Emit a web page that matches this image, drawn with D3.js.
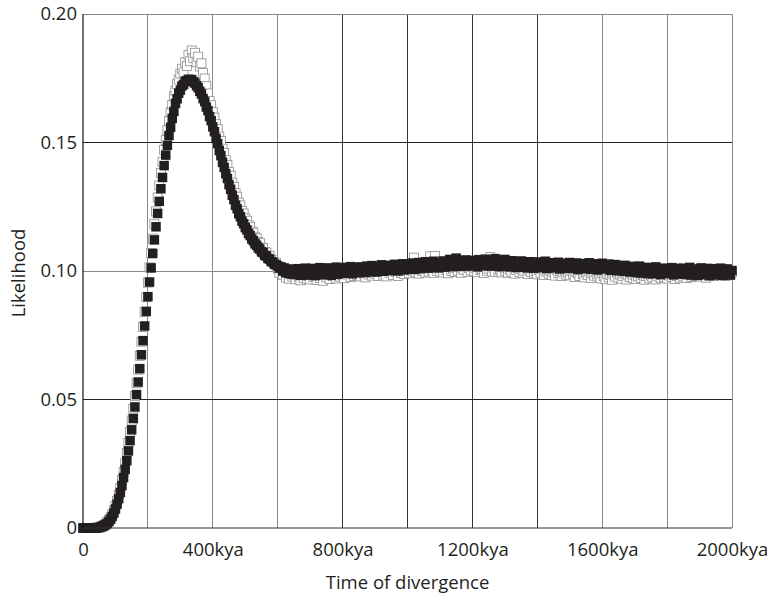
<!DOCTYPE html>
<html><head><meta charset="utf-8">
<script src="https://cdn.jsdelivr.net/npm/d3@7"></script>
<style>
html,body{margin:0;padding:0;background:#fff;}
text{font-family:"Open Sans",sans-serif;fill:#231f20;}
</style></head>
<body><svg id="chart" width="767" height="600"></svg>
<script>
// ---- data ----
const stepKya = 5; // sampling interval of the series (kya)
const filledValues = [
0,0,0,0,0,0,0,0,0,0.0001,
0.0002,0.0004,0.0006,0.0009,0.0013,0.0018,0.0025,0.0034,0.0045,0.0058,
0.0074,0.0093,0.0114,0.0138,0.0165,0.0196,0.0228,0.0262,0.0300,0.0340,
0.0382,0.0426,0.0471,0.0519,0.0568,0.0620,0.0674,0.0729,0.0786,0.0843,
0.0900,0.0957,0.1012,0.1068,0.1121,0.1172,0.1224,0.1271,0.1320,0.1364,
0.1410,0.1451,0.1489,0.1527,0.1559,0.1594,0.1621,0.1652,0.1670,0.1692,
0.1704,0.1720,0.1726,0.1738,0.1741,0.1746,0.1743,0.1745,0.1736,0.1731,
0.1721,0.1713,0.1699,0.1689,0.1671,0.1659,0.1638,0.1624,0.1601,0.1585,
0.1561,0.1542,0.1516,0.1496,0.1469,0.1449,0.1423,0.1403,0.1379,0.1360,
0.1336,0.1318,0.1295,0.1278,0.1256,0.1242,0.1223,0.1211,0.1194,0.1184,
0.1169,0.1160,0.1146,0.1138,0.1125,0.1118,0.1106,0.1100,0.1090,0.1085,
0.1075,0.1071,0.1061,0.1058,0.1049,0.1046,0.1037,0.1035,0.1027,0.1024,
0.1020,0.1011,0.1016,0.1000,0.1012,0.0993,0.1008,0.0990,0.1005,0.0988,
0.1004,0.0986,0.1009,0.0991,0.0983,0.1006,0.0989,0.1011,0.0984,0.1002,
0.0987,0.1010,0.0992,0.0982,0.1007,0.0994,0.1013,0.0985,0.1003,0.0990,
0.1012,0.0988,0.1004,0.0983,0.1009,0.0995,0.1015,0.0987,0.1006,0.0992,
0.1008,0.0991,0.1014,0.0996,0.1003,0.1017,0.0989,0.1010,0.0998,0.1012,
0.0993,0.1016,0.1001,0.1011,0.0994,0.1019,0.1003,0.0997,0.1021,0.1005,
0.1013,0.0996,0.1018,0.1004,0.1024,0.0999,0.1014,0.1007,0.1022,0.1001,
0.1017,0.1005,0.1026,0.1009,0.1000,0.1023,0.1011,0.1028,0.1004,0.1019,
0.1008,0.1027,0.1012,0.1031,0.1006,0.1021,0.1015,0.1033,0.1009,0.1025,
0.1014,0.1036,0.1018,0.1011,0.1029,0.1016,0.1038,0.1020,0.1032,0.1012,
0.1030,0.1019,0.1039,0.1015,0.1034,0.1022,0.1045,0.1026,0.1017,0.1037,
0.1050,0.1021,0.1036,0.1018,0.1040,0.1027,0.1043,0.1019,0.1035,0.1024,
0.1041,0.1022,0.1038,0.1016,0.1044,0.1028,0.1035,0.1020,0.1046,0.1025,
0.1037,0.1019,0.1042,0.1026,0.1048,0.1021,0.1039,0.1017,0.1036,0.1029,
0.1045,0.1020,0.1034,0.1016,0.1040,0.1024,0.1037,0.1014,0.1033,0.1022,
0.1039,0.1015,0.1031,0.1023,0.1012,0.1036,0.1019,0.1034,0.1011,0.1027,
0.1018,0.1035,0.1013,0.1029,0.1021,0.1038,0.1010,0.1026,0.1016,0.1032,
0.1012,0.1028,0.1019,0.1034,0.1008,0.1025,0.1015,0.1030,0.1011,0.1023,
0.1033,0.1010,0.1027,0.1017,0.1031,0.1006,0.1024,0.1014,0.1029,0.1009,
0.1026,0.1012,0.1032,0.1007,0.1021,0.1015,0.1028,0.1004,0.1023,0.1011,
0.1030,0.1008,0.1022,0.1013,0.1027,0.1003,0.1019,0.1010,0.1025,0.1001,
0.1020,0.1006,0.1016,0.0999,0.1022,0.1004,0.1013,0.0996,0.1018,0.1002,
0.1015,0.0994,0.1010,0.1019,0.0992,0.1008,0.0997,0.1014,0.0990,0.1006,
0.1012,0.0989,0.1003,0.1016,0.0993,0.1007,0.0986,0.1011,0.0998,0.1004,
0.0990,0.1009,0.0995,0.1013,0.0985,0.1002,0.1010,0.0988,0.1006,0.0994,
0.1011,0.0987,0.1003,0.0996,0.1014,0.0984,0.1005,0.0992,0.1008,0.0983,
0.1001,0.1012,0.0986,0.1004,0.0995,0.1010,0.0982,0.1007,0.0991,0.1009,
0.0985,0.1003,0.0994,0.1011,0.0983,0.1006,0.0989,0.1008,0.0996,0.0984,
0.1002
];
const openValues = [
0,0,0,0,0,0,0,0,0.0001,0.0002,
0.0003,0.0005,0.0008,0.0012,0.0016,0.0023,0.0031,0.0041,0.0053,0.0068,
0.0086,0.0106,0.0129,0.0156,0.0186,0.0218,0.0252,0.0291,0.0331,0.0374,
0.0418,0.0465,0.0513,0.0563,0.0616,0.0670,0.0725,0.0782,0.0840,0.0898,
0.0955,0.1014,0.1070,0.1126,0.1182,0.1232,0.1286,0.1333,0.1382,0.1425,
0.1471,0.1509,0.1548,0.1583,0.1618,0.1646,0.1680,0.1702,0.1728,0.1745,
0.1768,0.1787,0.1772,0.1812,0.1798,0.1841,0.1816,0.1858,0.1829,0.1849,
0.1812,0.1834,0.1796,0.1808,0.1770,0.1749,0.1719,0.1691,0.1662,0.1645,
0.1618,0.1597,0.1571,0.1552,0.1523,0.1506,0.1476,0.1459,0.1431,0.1413,
0.1386,0.1371,0.1344,0.1327,0.1303,0.1289,0.1266,0.1255,0.1233,0.1224,
0.1205,0.1196,0.1178,0.1171,0.1154,0.1149,0.1131,0.1127,0.1112,0.1109,
0.1091,0.1090,0.1074,0.1072,0.1057,0.1059,0.1041,0.1044,0.1028,0.1032,
0.1010,0.0993,0.1014,0.0984,0.1001,0.0975,0.0995,0.0970,0.0990,0.0978,
0.0986,0.0968,0.0993,0.0977,0.0964,0.0988,0.0973,0.0996,0.0970,0.0981,
0.0967,0.0990,0.0976,0.0999,0.0965,0.0984,0.0972,0.0993,0.0962,0.0986,
0.0975,0.0998,0.0969,0.0987,0.0980,0.1004,0.0971,0.0991,0.0978,0.0995,
0.0983,0.0972,0.0997,0.0986,0.1005,0.0976,0.0992,0.0981,0.1008,0.0985,
0.0996,0.0979,0.1003,0.0989,0.0975,0.1000,0.0987,0.1011,0.0982,0.0994,
0.0990,0.1006,0.0981,0.0999,0.1013,0.0986,0.1002,0.0979,0.1005,0.0993,
0.1000,0.0985,0.1011,0.0996,0.0981,0.1008,0.0992,0.1016,0.0988,0.1001,
0.1007,0.0991,0.1019,0.0999,0.1052,0.0995,0.1012,0.0990,0.1016,0.1000,
0.1006,0.0994,0.1015,0.0998,0.1057,0.1005,0.0993,0.1059,0.1001,0.1013,
0.0998,0.1011,0.0994,0.1019,0.1003,0.0991,0.1015,0.1000,0.1009,0.0996,
0.1012,0.1001,0.1017,0.0993,0.1008,0.1004,0.1020,0.0997,0.1011,0.1002,
0.1016,0.0999,0.1010,0.0995,0.1018,0.1003,0.1007,0.0992,0.1014,0.1001,
0.1009,0.1054,0.0998,0.1013,0.0996,0.1019,0.1002,0.1008,0.0994,0.1015,
0.1000,0.1011,0.0993,0.1006,0.0997,0.1017,0.0990,0.1004,0.1012,0.0995,
0.1008,0.0992,0.1001,0.1014,0.0988,0.1003,0.0996,0.1010,0.0991,0.0999,
0.0987,0.1004,0.0993,0.1009,0.0984,0.0998,0.1006,0.0990,0.1001,0.0985,
0.0997,0.0982,0.1005,0.0991,0.0999,0.0980,0.0994,0.1002,0.0986,0.0995,
0.0983,0.1000,0.0989,0.0977,0.0996,0.0991,0.0981,0.1003,0.0988,0.0975,
0.0994,0.0984,0.0998,0.0973,0.0990,0.0982,0.0995,0.0979,0.0987,0.0971,
0.0992,0.0980,0.0968,0.0989,0.0975,0.0984,0.0966,0.0987,0.0978,0.0993,
0.0974,0.0986,0.0970,0.0981,0.0991,0.0967,0.0983,0.0976,0.0988,0.0972,
0.0985,0.0969,0.0979,0.0991,0.0973,0.0984,0.0966,0.0980,0.0989,0.0971,
0.0982,0.0975,0.0988,0.0967,0.0979,0.0993,0.0972,0.0984,0.0976,0.0990,
0.0971,0.0983,0.0994,0.0977,0.0986,0.0969,0.0981,0.0995,0.0974,0.0988,
0.0979,0.0992,0.0973,0.0985,0.0998,0.0976,0.0989,0.0981,0.0996,0.0983,
0.0991,0.0978,0.1000,0.0986,0.0974,0.0995,0.0982,0.0997,0.0988,0.0980,
0.0993,0.1001,0.0984,0.0996,0.0989,0.1003,0.0981,0.0994,0.0999,0.0987,
0.0995
];
const xGridValues = [200,400,600,800,1000,1200,1400,1600,1800,2000];
const xTickValues = [0,400,800,1200,1600,2000];
const xTickLabels = ["0","400kya","800kya","1200kya","1600kya","2000kya"];
const yTickValues = [0,0.05,0.10,0.15,0.20];
const yTickLabels = ["0","0.05","0.10","0.15","0.20"];
const xTitle = "Time of divergence";
const yTitle = "Likelihood";

// ---- layout ----
const svg = d3.select("#chart");
const L = 83, R = 732, T = 14, B = 528;
const x = d3.scaleLinear().domain([0,2000]).range([L,R]);
const y = d3.scaleLinear().domain([0,0.2]).range([B,T]);
const fs = 18.5;

// gridlines
const vColor = v => (v===800||v===1000||v===1200||v===1400) ? "#333" : "#8a8a8a";
svg.append("g").selectAll("line").data(xGridValues).join("line")
  .attr("x1",d=>x(d)).attr("x2",d=>x(d)).attr("y1",T).attr("y2",B)
  .attr("stroke",vColor).attr("stroke-width",1).attr("shape-rendering","crispEdges");
const hColor = v => (v===0.05||v===0.15) ? "#222" : "#8a8a8a";
svg.append("g").selectAll("line").data(yTickValues.filter(v=>v>0)).join("line")
  .attr("x1",L).attr("x2",R).attr("y1",d=>y(d)).attr("y2",d=>y(d))
  .attr("stroke",hColor).attr("stroke-width",1).attr("shape-rendering","crispEdges");

// data
const toPts = arr => arr.map((v,i)=>({k:i*stepKya, v}));
const openS = 9, fillS = 9.5;
svg.append("g").selectAll("rect").data(toPts(openValues)).join("rect")
  .attr("x",d=>x(d.k)-openS/2).attr("y",d=>y(d.v)-openS/2)
  .attr("width",openS).attr("height",openS)
  .attr("fill","#fff").attr("stroke","#8c8c8c").attr("stroke-width",0.8);
svg.append("g").selectAll("rect").data(toPts(filledValues)).join("rect")
  .attr("x",d=>x(d.k)-fillS/2).attr("y",d=>y(d.v)-fillS/2)
  .attr("width",fillS).attr("height",fillS)
  .attr("fill","#231f20");

// axes lines
svg.append("line").attr("x1",L).attr("x2",L).attr("y1",T).attr("y2",B)
  .attr("stroke","#111").attr("stroke-width",1.2);
svg.append("line").attr("x1",L).attr("x2",R).attr("y1",B).attr("y2",B)
  .attr("stroke","#333").attr("stroke-width",1.2);

// axis labels via d3 axes
const yAxis = d3.axisLeft(y).tickValues(yTickValues)
  .tickFormat((d,i)=>yTickLabels[i]).tickSize(0).tickPadding(6);
const gy = svg.append("g").attr("transform",`translate(${L},0)`).call(yAxis);
gy.select(".domain").remove();
gy.selectAll("text").style("font-family","'Open Sans',sans-serif").style("font-size",fs+"px").attr("fill","#231f20");

const xAxis = d3.axisBottom(x).tickValues(xTickValues)
  .tickFormat((d,i)=>xTickLabels[i]).tickSize(0).tickPadding(15);
const gx = svg.append("g").attr("transform",`translate(0,${B})`).call(xAxis);
gx.select(".domain").remove();
gx.selectAll("text").style("font-family","'Open Sans',sans-serif").style("font-size",fs+"px").attr("fill","#231f20");

svg.append("text").attr("x",(L+R)/2).attr("y",589).attr("text-anchor","middle")
  .style("font-size",fs+"px").text(xTitle);
svg.append("text").attr("transform","translate(25,273) rotate(-90)").attr("text-anchor","middle")
  .style("font-size",fs+"px").text(yTitle);
</script></body></html>
